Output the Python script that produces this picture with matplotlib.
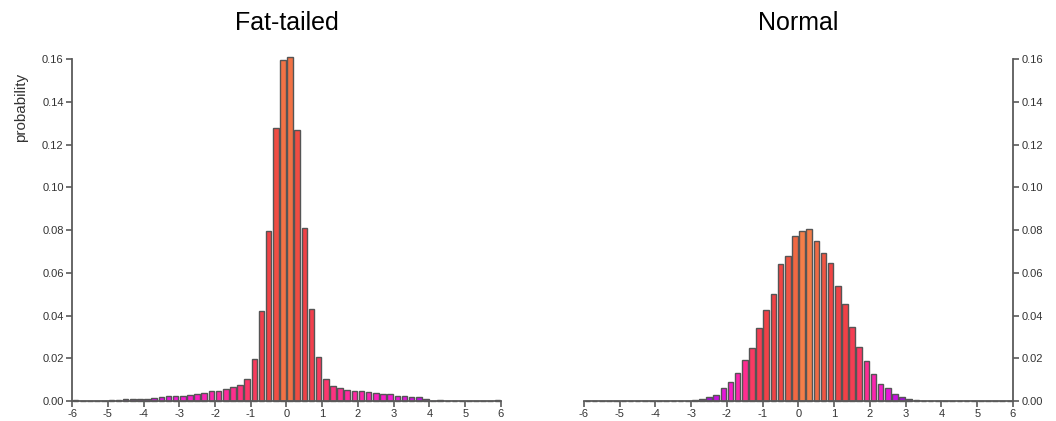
import matplotlib.pyplot as plt
import numpy as np
from matplotlib.colors import LinearSegmentedColormap

plt.rcParams['font.family'] = ['Liberation Sans', 'DejaVu Sans']

# bin centres, width 0.2 from -6 to 6
bin_centers = np.round(np.arange(-5.9, 6.0, 0.2), 1)
bin_width = 0.2

# probability per bin
fat_tailed = [
    0.0003, 0.0000, 0.0002, 0.0000, 0.0002,
    0.0003, 0.0005, 0.0009, 0.0009, 0.0009,
    0.0009, 0.0014, 0.0019, 0.0023, 0.0023,
    0.0024, 0.0029, 0.0034, 0.0039, 0.0048,
    0.0049, 0.0054, 0.0065, 0.0077, 0.0105,
    0.0196, 0.0423, 0.0797, 0.1277, 0.1595,
    0.1610, 0.1268, 0.0812, 0.0430, 0.0205,
    0.0105, 0.0070, 0.0063, 0.0050, 0.0049,
    0.0045, 0.0041, 0.0036, 0.0034, 0.0033,
    0.0025, 0.0024, 0.0019, 0.0018, 0.0010,
    0.0002, 0.0006, 0.0002, 0.0002, 0.0002,
    0.0002, 0.0000, 0.0000, 0.0000, 0.0004,
]

normal = [
    0.0, 0.0, 0.0, 0.0, 0.0,
    0.0, 0.0, 0.0, 0.0, 0.0,
    0.0, 0.0, 0.0, 0.0, 0.0,
    0.0003, 0.0010, 0.0019, 0.0028, 0.0060,
    0.0088, 0.0131, 0.0190, 0.0250, 0.0340,
    0.0428, 0.0502, 0.0640, 0.0680, 0.0771,
    0.0798, 0.0807, 0.0747, 0.0691, 0.0644,
    0.0538, 0.0453, 0.0345, 0.0255, 0.0185,
    0.0128, 0.0079, 0.0060, 0.0032, 0.0019,
    0.0009, 0.0003, 0.0, 0.0, 0.0,
    0.0, 0.0, 0.0, 0.0, 0.0,
    0.0, 0.0, 0.0, 0.0, 0.0,
]

x_ticks = list(range(-6, 7))
y_ticks = [0.00, 0.02, 0.04, 0.06, 0.08, 0.10, 0.12, 0.14, 0.16]

# bars are coloured by tail quantile: purple in the far tails, orange at the median
stop_q = [0.001, 0.004, 0.012, 0.04, 0.065, 0.12, 0.25, 0.33, 0.41, 0.5]
stop_col = ['#8010c0', '#c010e0', '#f418d8', '#ff2a9a', '#fa3a64',
            '#f04048', '#f04444', '#f05a42', '#f06e44', '#f4884c']
lo, hi = np.log10(stop_q[0]), np.log10(stop_q[-1])
bar_cmap = LinearSegmentedColormap.from_list(
    'heat', [((np.log10(q) - lo) / (hi - lo), c) for q, c in zip(stop_q, stop_col)])

edge = '#555555'
spine_col = '#5a5a5a'
tick_col = '#333333'

fig = plt.figure(figsize=(10.56, 4.21), dpi=100)
ax_fat = fig.add_axes([0.0682, 0.0475, 0.4062, 0.8195])
ax_norm = fig.add_axes([0.5530, 0.0475, 0.4062, 0.8195])


def draw_hist(ax, values, title):
    vals = np.asarray(values)
    p = vals / vals.sum()
    left_tail = np.cumsum(p) - p / 2
    right_tail = np.cumsum(p[::-1])[::-1] - p / 2
    q = np.clip(np.minimum(left_tail, right_tail), stop_q[0], 0.5)
    colors = bar_cmap((np.log10(q) - lo) / (hi - lo))
    ax.bar(bin_centers, vals, width=bin_width * 0.78, color=colors,
           edgecolor=edge, linewidth=1.0, clip_on=False, zorder=2)
    ax.set_xlim(-6, 6)
    ax.set_ylim(0, 0.1615)
    ax.set_xticks(x_ticks)
    ax.set_xticklabels([str(t) for t in x_ticks])
    ax.set_yticks(y_ticks)
    ax.set_yticklabels(['%.2f' % t for t in y_ticks])
    ax.spines['top'].set_visible(False)
    for s in ax.spines.values():
        s.set_color(spine_col)
        s.set_linewidth(1.3)
    ax.spines['left'].set_bounds(0, 0.16)
    ax.spines['right'].set_bounds(0, 0.16)
    ax.tick_params(axis='both', colors=spine_col, labelcolor=tick_col,
                   labelsize=8, length=4, width=1.2, pad=2)
    ax.set_title(title, fontsize=18, pad=19)


draw_hist(ax_fat, fat_tailed, 'Fat-tailed')
ax_fat.spines['right'].set_visible(False)
ax_fat.set_ylabel('probability', fontsize=11, color=tick_col)
ax_fat.yaxis.set_label_coords(-0.102, 0.85)

draw_hist(ax_norm, normal, 'Normal')
ax_norm.spines['left'].set_visible(False)
ax_norm.yaxis.tick_right()

plt.savefig('out.png', dpi=100)
plt.close(fig)
